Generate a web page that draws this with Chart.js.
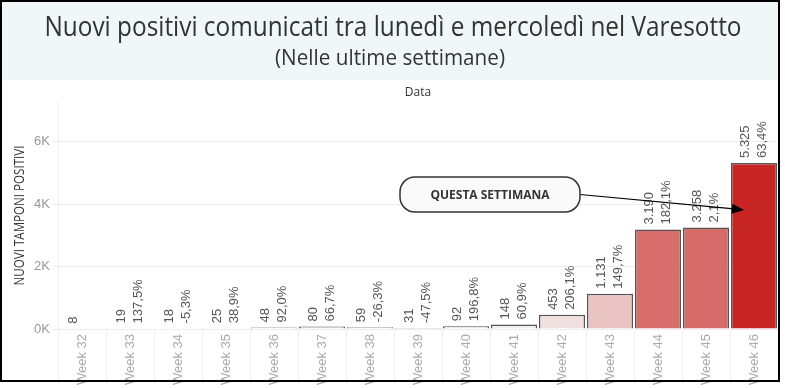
<!DOCTYPE html>
<html>
<head>
<meta charset="utf-8">
<script src="https://cdn.jsdelivr.net/npm/chart.js@4/dist/chart.umd.min.js"></script>
<style>
    body { margin: 0; background: #fff; }
    #wrap { position: relative; width: 785px; height: 388px; }
</style>
</head>
<body>
<div id="wrap"><canvas id="myChart" width="785" height="388"></canvas></div>
<script>
// data
const weeks = ['Week 32', 'Week 33', 'Week 34', 'Week 35', 'Week 36', 'Week 37', 'Week 38', 'Week 39',
    'Week 40', 'Week 41', 'Week 42', 'Week 43', 'Week 44', 'Week 45', 'Week 46'];
const positivi = [8, 19, 18, 25, 48, 80, 59, 31, 92, 148, 453, 1131, 3190, 3258, 5325];
const variazione = ['', '137,5%', '-5,3%', '38,9%', '92,0%', '66,7%', '-26,3%', '-47,5%',
    '196,8%', '60,9%', '206,1%', '149,7%', '182,1%', '2,1%', '63,4%'];
const yTicks = [0, 2000, 4000, 6000];

const titolo = 'Nuovi positivi comunicati tra lunedì e mercoledì nel Varesotto';
const sottotitolo = '(Nelle ultime settimane)';

function formatIt(n) {
    return String(n).replace(/\B(?=(\d{3})+(?!\d))/g, '.');
}

// sequential red scale, like the original
function barColor(v) {
    const max = Math.max(...positivi);
    const t = v / max;
    const stops = [[0, [245, 243, 243]], [0.6, [215, 110, 107]], [1, [198, 37, 36]]];
    let i = 0;
    while (i < stops.length - 2 && t > stops[i + 1][0]) i++;
    const [t0, c0] = stops[i];
    const [t1, c1] = stops[i + 1];
    const s = Math.min(1, Math.max(0, (t - t0) / (t1 - t0)));
    const c = c0.map((a, k) => Math.round(a + (c1[k] - a) * s));
    return `rgb(${c[0]},${c[1]},${c[2]})`;
}

// draw text squeezed horizontally to a given width
function fitText(ctx, text, font, cx, cy, width) {
    ctx.font = font;
    const w = ctx.measureText(text).width;
    ctx.save();
    ctx.translate(cx, cy);
    ctx.scale(width / w, 1);
    ctx.fillText(text, 0, 0);
    ctx.restore();
}

const framePlugin = {
    id: 'frame',
    beforeDraw(chart) {
        const ctx = chart.ctx;
        ctx.save();
        ctx.fillStyle = '#fff';
        ctx.fillRect(0, 0, chart.width, chart.height);
        ctx.fillStyle = '#f0f7f7';
        ctx.fillRect(2, 2, 776, 78);

        ctx.fillStyle = '#333';
        ctx.textAlign = 'center';
        ctx.textBaseline = 'middle';
        fitText(ctx, titolo, '28px "Open Sans"', 393, 28, 697);
        fitText(ctx, sottotitolo, '21px "Open Sans"', 390, 59, 230);

        const area = chart.chartArea;
        ctx.font = '12px "Open Sans"';
        ctx.fillText('Data', (area.left + area.right) / 2, 93);

        ctx.translate(20, (area.top + area.bottom) / 2);
        ctx.rotate(-Math.PI / 2);
        fitText(ctx, 'NUOVI TAMPONI POSITIVI', '14px "Open Sans"', 0, 0, 140);
        ctx.restore();
    },
    afterDraw(chart) {
        const ctx = chart.ctx;
        ctx.save();
        ctx.strokeStyle = '#000';
        ctx.lineWidth = 2;
        ctx.strokeRect(1, 1, 778, 380);
        ctx.restore();
    }
};

const barLabels = {
    id: 'barLabels',
    afterDatasetsDraw(chart) {
        const ctx = chart.ctx;
        const meta = chart.getDatasetMeta(0);
        ctx.save();
        ctx.fillStyle = '#555';
        ctx.font = '13px "Liberation Sans"';
        ctx.textAlign = 'left';
        ctx.textBaseline = 'middle';
        meta.data.forEach((bar, i) => {
            ctx.save();
            ctx.translate(bar.x, bar.y - 5);
            ctx.rotate(-Math.PI / 2);
            ctx.fillText(formatIt(positivi[i]), 0, -8.5);
            ctx.fillText(variazione[i], 0, 8.5);
            ctx.restore();
        });
        ctx.restore();
    }
};

const annotation = {
    id: 'annotation',
    afterDatasetsDraw(chart) {
        const ctx = chart.ctx;
        const x = chart.scales.x;
        const y = chart.scales.y;
        const bx = 400, by = 177, bw = 180, bh = 35;
        const tipX = x.getPixelForValue(14) - 10;
        const tipY = y.getPixelForValue(3820);
        const startX = bx + bw, startY = by + bh / 2;

        ctx.save();
        // arrow
        ctx.strokeStyle = '#000';
        ctx.fillStyle = '#000';
        ctx.lineWidth = 1.2;
        const ang = Math.atan2(tipY - startY, tipX - startX);
        ctx.beginPath();
        ctx.moveTo(startX, startY);
        ctx.lineTo(tipX - 10 * Math.cos(ang), tipY - 10 * Math.sin(ang));
        ctx.stroke();
        ctx.beginPath();
        ctx.moveTo(tipX, tipY);
        ctx.lineTo(tipX - 12 * Math.cos(ang) + 5 * Math.sin(ang), tipY - 12 * Math.sin(ang) - 5 * Math.cos(ang));
        ctx.lineTo(tipX - 12 * Math.cos(ang) - 5 * Math.sin(ang), tipY - 12 * Math.sin(ang) + 5 * Math.cos(ang));
        ctx.closePath();
        ctx.fill();

        // box
        ctx.beginPath();
        ctx.roundRect(bx, by, bw, bh, 15);
        ctx.fillStyle = '#fafafa';
        ctx.fill();
        ctx.strokeStyle = '#333';
        ctx.lineWidth = 1.5;
        ctx.stroke();

        ctx.fillStyle = '#333';
        ctx.font = 'bold 12px "Open Sans"';
        ctx.textAlign = 'center';
        ctx.textBaseline = 'middle';
        ctx.fillText('QUESTA SETTIMANA', bx + bw / 2, by + bh / 2 + 1);
        ctx.restore();
    }
};

const ctx = document.getElementById('myChart').getContext('2d');
window.myChart = new Chart(ctx, {
    type: 'bar',
    data: {
        labels: weeks,
        datasets: [{
            data: positivi,
            backgroundColor: positivi.map(barColor),
            borderColor: '#555',
            borderWidth: 1.5,
            borderSkipped: 'bottom',
            categoryPercentage: 1,
            barPercentage: 0.96
        }]
    },
    options: {
        responsive: false,
        animation: false,
        layout: { padding: { top: 102, right: 7, left: 0, bottom: 0 } },
        plugins: {
            legend: { display: false },
            tooltip: { enabled: false }
        },
        scales: {
            x: {
                offset: true,
                grid: { drawOnChartArea: false, offset: true, color: '#f0f0f0', tickLength: 55 },
                border: { display: false },
                ticks: {
                    minRotation: 90, maxRotation: 90, padding: -50,
                    color: '#aaa', font: { family: 'Liberation Sans', size: 13 }
                },
                afterFit(scale) { scale.height = 59; }
            },
            y: {
                min: 0,
                max: 7280,
                afterBuildTicks(scale) { scale.ticks = yTicks.map(v => ({ value: v })); },
                grid: { color: '#eeeeee', tickLength: 5 },
                border: { color: '#eeeeee' },
                ticks: {
                    padding: 3,
                    color: '#999',
                    font: { family: 'Liberation Sans', size: 13 },
                    callback: v => (v / 1000) + 'K'
                },
                afterFit(scale) { scale.width = 58; }
            }
        }
    },
    plugins: [framePlugin, barLabels, annotation]
});
</script>
</body>
</html>
